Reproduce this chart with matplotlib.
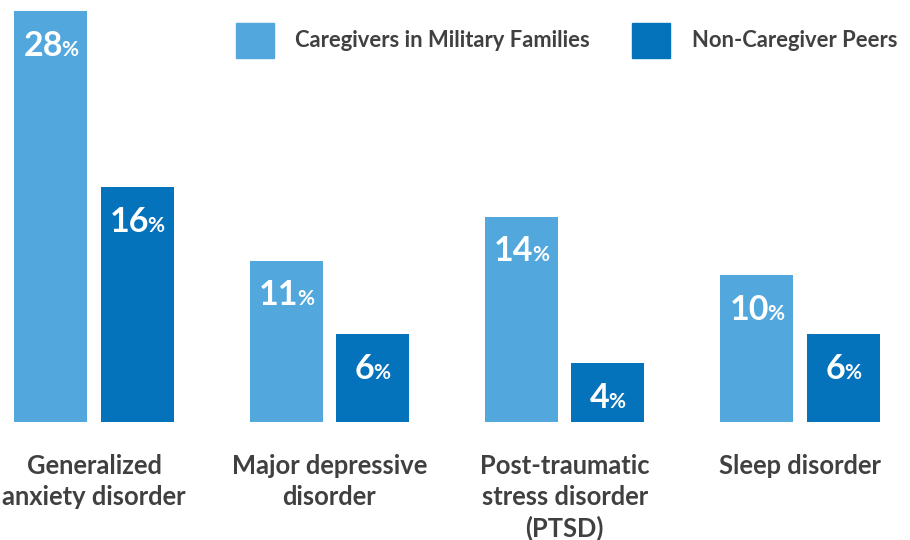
import matplotlib
matplotlib.use("Agg")
import matplotlib.pyplot as plt
from matplotlib.patches import Patch
from matplotlib.offsetbox import TextArea, HPacker, AnnotationBbox
import numpy as np

# Chart data
categories = ["Generalized\nanxiety disorder", "Major depressive\ndisorder",
              "Post-traumatic\nstress disorder\n(PTSD)", "Sleep disorder"]
caregivers = [28, 11, 14, 10]
peers = [16, 6, 4, 6]
series_names = ["Caregivers in Military Families", "Non-Caregiver Peers"]

light_blue = "#52a8dd"
dark_blue = "#0573bb"
text_gray = "#404040"

plt.rcParams['font.family'] = ['Lato', 'DejaVu Sans']

fig = plt.figure(figsize=(9.1, 5.4), dpi=100)
ax = fig.add_axes([0, 118 / 540, 1, 422 / 540])

x = np.arange(len(categories))
width = 0.31
off = 0.183

bars1 = ax.bar(x - off, caregivers, width, color=light_blue)
bars2 = ax.bar(x + off, peers, width, color=dark_blue)

ax.set_xlim(-0.3994, 3.4674)
ax.set_ylim(0, 28.75)
ax.axis("off")


def value_label(xpos, val):
    num = TextArea(str(val), textprops=dict(color="white", fontsize=24.5, fontweight="bold"))
    pct = TextArea("%", textprops=dict(color="white", fontsize=15, fontweight="bold"))
    box = HPacker(children=[num, pct], align="baseline", pad=0, sep=-1)
    ab = AnnotationBbox(box, (xpos, val), xybox=(0, -25), xycoords="data",
                        boxcoords="offset points", frameon=False, box_alignment=(0.5, 0.5))
    ax.add_artist(ab)


for xi, v in zip(x - off, caregivers):
    value_label(xi, v)
for xi, v in zip(x + off, peers):
    value_label(xi, v)

# category names under each pair of bars
for xi, name in zip(x, categories):
    ax.annotate(name, (xi, 0), xytext=(0, -23), textcoords="offset points",
                ha="center", va="top", fontsize=18.4, fontweight="bold",
                color=text_gray, linespacing=1.33)

handles = [Patch(color=light_blue), Patch(color=dark_blue)]
fig.legend(handles, series_names, loc="upper right", bbox_to_anchor=(897 / 910, 1 - 23 / 540),
           ncol=2, frameon=False, prop=dict(weight="bold", size=15.8),
           handlelength=1.73, handleheight=2.05, handletextpad=0.96, columnspacing=1.96,
           borderpad=0, borderaxespad=0, labelcolor=text_gray)

fig.savefig("out.png", dpi=100)
